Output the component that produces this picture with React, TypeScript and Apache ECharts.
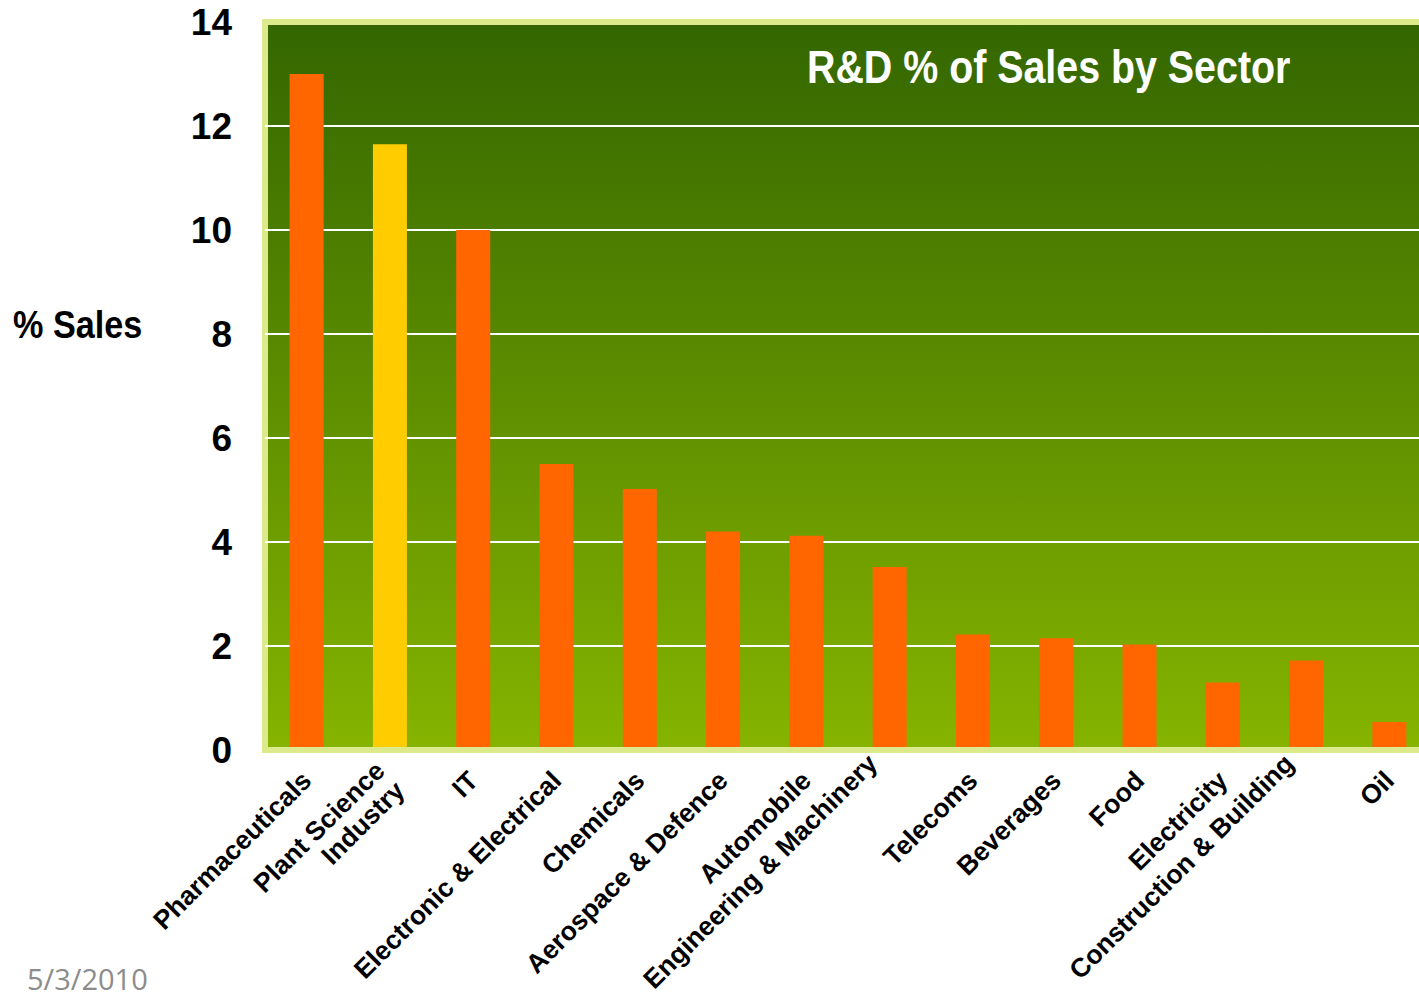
import React, { useEffect, useRef } from "react";
import * as echarts from "echarts";

const categories = [
  "Pharmaceuticals",
  "Plant Science\nIndustry",
  "IT",
  "Electronic & Electrical",
  "Chemicals",
  "Aerospace & Defence",
  "Automobile",
  "Engineering & Machinery",
  "Telecoms",
  "Beverages",
  "Food",
  "Electricity",
  "Construction & Building",
  "Oil",
];
const values = [13.0, 11.65, 10.0, 5.5, 5.02, 4.2, 4.12, 3.52, 2.22, 2.15, 2.03, 1.3, 1.72, 0.54];
const highlightIndex = 1;
// long labels that are lifted so they stay inside the page, as in the original
const liftedLabels = [7, 12];
const titleText = "R&D % of Sales by Sector";
const yAxisTitle = "% Sales";
const dateText = "5/3/2010";

export default function App() {
  const ref = useRef<HTMLDivElement>(null);
  useEffect(() => {
    if (!ref.current) return;
    const chart = echarts.init(ref.current, null, { renderer: "svg" });
    chart.setOption({
      animation: false,
      backgroundColor: "#ffffff",
      grid: {
        left: 265,
        right: 0,
        top: 22,
        bottom: 249,
        outerBoundsMode: "none",
        containLabel: false,
        show: true,
        borderWidth: 6,
        borderColor: "#dcea8c",
        backgroundColor: new echarts.graphic.LinearGradient(0, 0, 0, 1, [
          { offset: 0, color: "#336600" },
          { offset: 1, color: "#86b400" },
        ]),
      },
      xAxis: {
        type: "category",
        data: categories.map((c, i) =>
          liftedLabels.includes(i)
            ? { value: c, textStyle: { verticalAlign: "bottom", padding: [0, 0, 10, 0] } }
            : c
        ),
        z: 5,
        axisLine: { show: true, lineStyle: { color: "#dcea8c", width: 6 } },
        axisTick: { show: false },
        axisLabel: {
          interval: 0,
          rotate: 45,
          margin: 26,
          color: "#000000",
          fontFamily: "'Liberation Sans', Arial, sans-serif",
          fontWeight: "bold",
          fontSize: 26.5,
          lineHeight: 28,
          align: "right",
          verticalAlign: "middle",
        },
      },
      yAxis: {
        type: "value",
        min: 0,
        max: 14,
        interval: 2,
        axisLine: { show: false },
        axisTick: { show: false },
        axisLabel: {
          margin: 33,
          color: "#000000",
          fontFamily: "'Liberation Sans', Arial, sans-serif",
          fontWeight: "bold",
          fontSize: 37,
        },
        splitLine: {
          show: true,
          showMinLine: false,
          showMaxLine: false,
          lineStyle: { color: "#ffffff", width: 2 },
        },
      },
      series: [
        {
          type: "bar",
          data: values.map((v, i) => ({
            value: v,
            itemStyle: { color: i === highlightIndex ? "#ffcc00" : "#ff6600" },
          })),
          barWidth: 34,
        },
      ],
      graphic: [
        {
          type: "text",
          x: 807,
          y: 44,
          scaleX: 0.856,
          z: 10,
          style: {
            text: titleText,
            fill: "#ffffff",
            font: "bold 46px 'Liberation Sans', Arial, sans-serif",
          },
        },
        {
          type: "text",
          x: 13,
          y: 306,
          scaleX: 0.9,
          style: {
            text: yAxisTitle,
            fill: "#000000",
            font: "bold 38px 'Liberation Sans', Arial, sans-serif",
          },
        },
        {
          type: "text",
          left: 27,
          top: 964,
          style: {
            text: dateText,
            fill: "#8c8c8c",
            font: "29px 'Open Sans', 'Noto Sans', sans-serif",
          },
        },
      ],
    });
    return () => chart.dispose();
  }, []);
  return (
    <div
      style={{
        position: "fixed",
        left: 0,
        top: 0,
        width: 1419,
        height: 999,
        overflow: "hidden",
      }}
    >
      <div ref={ref} style={{ width: 1431, height: 999 }} />
    </div>
  );
}
